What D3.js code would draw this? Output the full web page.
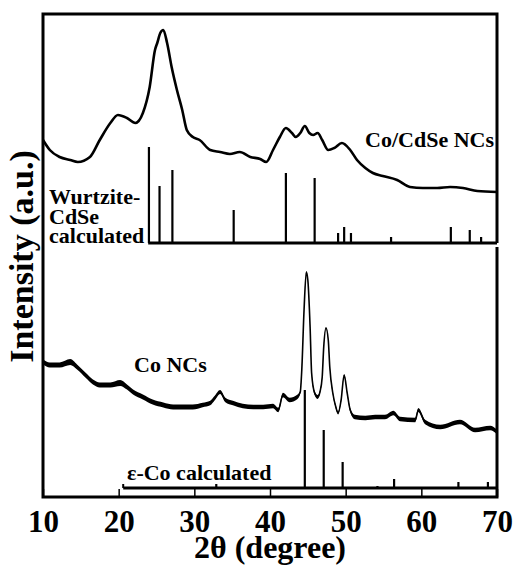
<!DOCTYPE html>
<html>
<head>
<meta charset="utf-8">
<script src="https://cdnjs.cloudflare.com/ajax/libs/d3/7.8.5/d3.min.js"></script>
<style>
  body { margin: 0; background: #fff; }
  svg text { font-family: "Liberation Serif", "Times New Roman", serif; font-weight: bold; fill: #000; }
</style>
</head>
<body>
<div id="container"></div>
<script>
// XRD patterns; intensity in arbitrary units (traces stacked with offsets)
// [2theta, intensity]
var cdsePattern = [
  [10.0, 357], [10.9, 347], [12.2, 340], [13.6, 337], [14.6, 335], [16.2, 340], [17.5, 357],
  [18.9, 374], [19.9, 382], [21.1, 379], [22.2, 374], [23.2, 384], [24.1, 410], [24.8, 447],
  [25.1, 454], [25.5, 464], [25.9, 467], [26.4, 454], [27.0, 430], [27.7, 407], [28.4, 387],
  [29.0, 367], [29.8, 360], [30.7, 357], [32.1, 347], [33.4, 345], [34.7, 343], [36.0, 345],
  [37.4, 340], [38.7, 338], [39.5, 335], [40.4, 347], [41.3, 360], [42.1, 369], [42.9, 364],
  [43.4, 360], [44.0, 364], [44.6, 371], [45.2, 364], [45.7, 362], [46.3, 364], [46.9, 357],
  [47.7, 347], [48.5, 349], [49.5, 354], [50.6, 347], [51.5, 337], [52.6, 329], [53.6, 324],
  [54.9, 321], [56.8, 317], [58.5, 310], [60.2, 309], [62.1, 309], [63.8, 310], [65.5, 309],
  [67.4, 306], [70.0, 305]
];

// [2theta, intensity, noise half-spread]
var coPattern = [
  [10.0, 135, 2.6], [10.9, 132, 2.6], [12.2, 132, 2.6], [13.6, 135, 3], [14.5, 130, 2.6],
  [15.6, 122, 2.6], [16.6, 115, 2.6], [17.5, 112, 2.6], [18.9, 112, 2.6], [20.2, 114, 3],
  [21.1, 110, 2.6], [21.9, 105, 2.6], [23.2, 100, 2.6], [24.5, 95, 2.6], [25.9, 92, 2.6],
  [27.2, 90, 2.6], [28.5, 90, 2.6], [29.8, 90, 2.6], [31.1, 92, 2.3], [32.1, 94, 2.3],
  [32.7, 99, 2.3], [33.4, 105, 2], [34.1, 97, 2.3], [35.1, 94, 2.3], [36.4, 91, 2.3],
  [37.8, 90, 2.3], [39.1, 90, 2.3], [40.4, 91, 2.3], [41.1, 87, 2.3], [41.7, 102, 2.3],
  [42.6, 97, 2.3], [43.6, 100, 2.3], [44.0, 105, 1.6], [44.2, 127, 1.2], [44.5, 187, 0.8],
  [44.8, 225, 0.8], [45.0, 217, 0.8], [45.3, 170, 0.8], [45.5, 124, 1.2], [45.9, 104, 2],
  [46.3, 100, 2], [46.6, 105, 1.6], [46.9, 120, 1.2], [47.1, 150, 0.8], [47.4, 169, 0.8],
  [47.7, 157, 0.8], [47.9, 130, 1.2], [48.3, 104, 1.6], [48.7, 90, 1.6], [49.0, 84, 1.6],
  [49.4, 97, 1.2], [49.8, 122, 0.8], [50.2, 104, 1.2], [50.6, 87, 2], [51.2, 80, 2.3],
  [52.6, 79, 2.3], [53.9, 80, 2.3], [55.2, 80, 2.3], [56.3, 84, 2.3], [57.2, 78, 2.3],
  [59.2, 77, 2.3], [59.6, 87, 2], [60.5, 75, 2.3], [62.5, 70, 2.3], [65.1, 75, 2.3],
  [67.1, 67, 2.3], [69.1, 69, 2.3], [70.0, 65, 2.3]
];

// calculated reference patterns: [2theta, relative height]
var wurtziteBase = 254;
var wurtziteSticks = [
  [24.0, 96], [25.4, 57], [27.1, 73], [35.2, 33], [42.1, 70], [45.9, 65], [49.0, 10],
  [49.8, 16], [50.7, 10], [56.0, 6], [63.9, 16], [66.4, 13], [67.9, 6]
];
var cobaltBase = 9;
var cobaltSticks = [
  [32.9, 4], [44.6, 98], [47.1, 58], [49.6, 26], [54.2, 2], [56.4, 9], [64.9, 6], [68.8, 6]
];

var xTicks = [10, 20, 30, 40, 50, 60, 70];

(function() {
  var width = 514, height = 569;
  var plotLeft = 43, plotRight = 497, plotTop = 14, plotBottom = 497;

  var svg = d3.select("#container").append("svg")
    .attr("width", width)
    .attr("height", height);

  var x = d3.scaleLinear().domain([10, 70]).range([plotLeft, plotRight]);
  var y = d3.scaleLinear().domain([0, 483]).range([plotBottom, plotTop]);

  // x axis, ticks pointing inward
  var xAxis = svg.append("g")
    .attr("transform", "translate(0," + plotBottom + ")")
    .call(d3.axisBottom(x).tickValues(xTicks).tickSizeInner(-8).tickSizeOuter(0).tickPadding(13));
  xAxis.select(".domain").remove();
  xAxis.attr("font-family", null);
  xAxis.selectAll(".tick line").attr("stroke", "#000").attr("stroke-width", 1.5);
  xAxis.selectAll(".tick text").style("font-size", "31px").attr("fill", "#000");

  // Co/CdSe trace
  var line = d3.line()
    .x(function(d) { return x(d[0]); })
    .y(function(d) { return y(d[1]); })
    .curve(d3.curveMonotoneX);

  svg.append("path")
    .datum(cdsePattern)
    .attr("d", line)
    .attr("fill", "none")
    .attr("stroke", "#000")
    .attr("stroke-width", 2.6)
    .attr("stroke-linejoin", "round");

  // Co trace (noisy band + centre line)
  var band = d3.area()
    .x(function(d) { return x(d[0]); })
    .y0(function(d) { return y(d[1] - d[2]); })
    .y1(function(d) { return y(d[1] + d[2]); })
    .curve(d3.curveMonotoneX);

  svg.append("path")
    .datum(coPattern)
    .attr("d", band)
    .attr("fill", "#000");

  svg.append("path")
    .datum(coPattern)
    .attr("d", line)
    .attr("fill", "none")
    .attr("stroke", "#000")
    .attr("stroke-width", 1.6);

  // stick patterns
  function drawSticks(data, base, startAngle, hook) {
    var g = svg.append("g");
    g.append("line")
      .attr("x1", x(startAngle)).attr("x2", x(70))
      .attr("y1", y(base)).attr("y2", y(base))
      .attr("stroke", "#000").attr("stroke-width", 3);
    if (hook) {
      g.append("line")
        .attr("x1", x(startAngle)).attr("x2", x(startAngle))
        .attr("y1", y(base)).attr("y2", y(base + 4))
        .attr("stroke", "#000").attr("stroke-width", 2);
    }
    g.selectAll("line.stick")
      .data(data)
      .enter().append("line")
      .attr("class", "stick")
      .attr("x1", function(d) { return x(d[0]); })
      .attr("x2", function(d) { return x(d[0]); })
      .attr("y1", y(base))
      .attr("y2", function(d) { return y(base + d[1]); })
      .attr("stroke", "#000")
      .attr("stroke-width", 2.2);
  }
  drawSticks(wurtziteSticks, wurtziteBase, 23.9, false);
  drawSticks(cobaltSticks, cobaltBase, 20.6, true);

  // frame (right side is split between the two panels)
  var gap = y(wurtziteBase);
  svg.append("path")
    .attr("d", "M" + plotRight + "," + gap + "V" + plotTop + "H" + plotLeft + "V" + plotBottom + "H" + plotRight + "V" + (gap + 4))
    .attr("stroke", "#000").attr("stroke-width", 3).attr("fill", "none");

  // labels
  svg.append("text").attr("x", 494).attr("y", 147).attr("text-anchor", "end").style("font-size", "22px").text("Co/CdSe NCs");
  svg.append("text").attr("x", 134).attr("y", 372).style("font-size", "22px").text("Co NCs");
  var wz = svg.append("text").attr("x", 49).attr("y", 204).style("font-size", "22px");
  wz.append("tspan").attr("x", 49).text("Wurtzite-");
  wz.append("tspan").attr("x", 49).attr("dy", 20).text("CdSe");
  wz.append("tspan").attr("x", 49).attr("dy", 19).text("calculated");
  svg.append("text").attr("x", 127).attr("y", 480).style("font-size", "22px").text("ε-Co calculated");

  svg.append("text")
    .attr("transform", "translate(33," + ((plotTop + plotBottom) / 2 + 1) + ") rotate(-90)")
    .attr("text-anchor", "middle")
    .style("font-size", "34px")
    .text("Intensity (a.u.)");

  svg.append("text")
    .attr("x", (plotLeft + plotRight) / 2)
    .attr("y", 558)
    .attr("text-anchor", "middle")
    .style("font-size", "32px")
    .text("2θ (degree)");
})();
</script>
</body>
</html>
